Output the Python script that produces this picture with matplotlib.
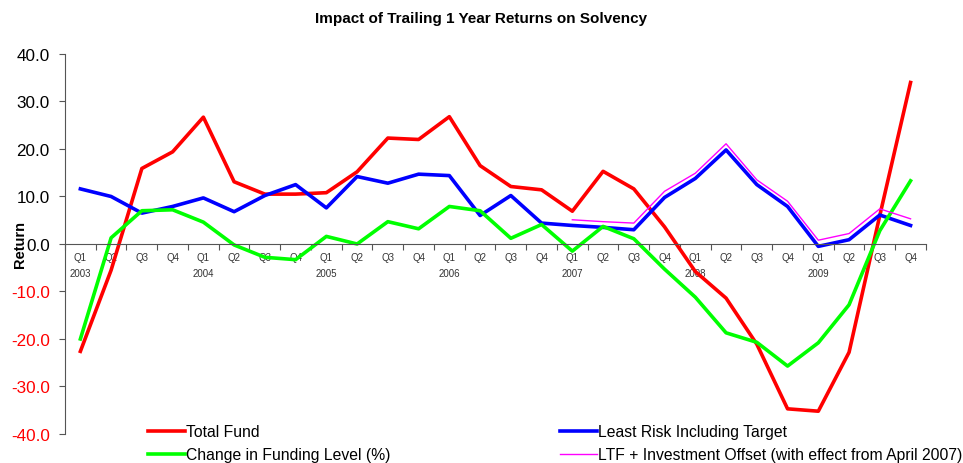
import numpy as np
import matplotlib.pyplot as plt

plt.rcParams['font.family'] = ['Liberation Sans', 'DejaVu Sans']

# quarters Q1 2003 .. Q4 2009
quarters = ["Q1", "Q2", "Q3", "Q4"] * 7
years = ["2003", "2004", "2005", "2006", "2007", "2008", "2009"]

total_fund = [-22.6, -5.5, 15.9, 19.4, 26.7, 13.1, 10.5, 10.5,
              10.8, 15.2, 22.3, 22.0, 26.8, 16.5, 12.1, 11.4,
              6.9, 15.3, 11.6, 3.6, -5.8, -11.4, -21.1, -34.7,
              -35.2, -22.8, 6.0, 34.0]
least_risk = [11.6, 10.0, 6.5, 7.9, 9.7, 6.8, 10.2, 12.5,
              7.6, 14.2, 12.8, 14.7, 14.4, 6.0, 10.2, 4.4,
              3.9, 3.5, 3.0, 9.8, 13.8, 19.8, 12.5, 7.9,
              -0.5, 0.9, 6.1, 3.9]
funding_change = [-20.0, 1.3, 7.0, 7.2, 4.6, -0.2, -2.8, -3.3,
                  1.6, 0.0, 4.7, 3.2, 7.9, 7.0, 1.2, 4.1,
                  -1.5, 3.7, 1.1, -5.3, -11.2, -18.7, -20.7, -25.7,
                  -20.8, -12.8, 2.8, 13.3]
# LTF + Investment Offset starts at Q1 2007
ltf_offset = [np.nan] * 16 + [5.1, 4.7, 4.4, 11.1, 14.9, 21.1, 13.5, 9.0,
                              0.8, 2.2, 7.4, 5.3]

fig = plt.figure(figsize=(9.63, 4.64), dpi=100)
ax = fig.add_axes([0.0675, 0.0625, 0.894, 0.819])

x = np.arange(len(quarters))
ax.plot(x, total_fund, color='#ff0000', lw=2.6, label='Total Fund')
ax.plot(x, least_risk, color='#0000ff', lw=2.6, label='Least Risk Including Target')
ax.plot(x, funding_change, color='#00ff00', lw=2.6, label='Change in Funding Level (%)')
ax.plot(x, ltf_offset, color='#ff00ff', lw=1.0,
        label='LTF + Investment Offset (with effect from April 2007)')

ax.set_xlim(-0.5, len(quarters) - 0.5)
ax.set_ylim(-40, 40)
yt = np.arange(-40, 41, 10)
ax.set_yticks(yt)
ax.set_yticklabels([f"{v:.1f}" for v in yt], fontsize=12.3)
for lab, v in zip(ax.get_yticklabels(), yt):
    if v < 0:
        lab.set_color('#ff0000')
ax.tick_params(axis='y', direction='out', length=4, width=0.8, color='#555555', pad=7)

ax.spines['top'].set_visible(False)
ax.spines['right'].set_visible(False)
ax.spines['bottom'].set_position(('data', 0))
ax.spines['bottom'].set_color('#555555')
ax.spines['left'].set_color('#555555')

labels = []
for i, q in enumerate(quarters):
    labels.append(q + "\n" + years[i // 4] if q == "Q1" else q + "\n")
ax.set_xticks(x)
ax.set_xticklabels(labels, fontsize=7, color='#333333', linespacing=1.75)
ax.tick_params(axis='x', which='major', length=0, pad=6)
ax.set_xticks(np.arange(-0.5, len(quarters), 1), minor=True)
ax.tick_params(axis='x', which='minor', direction='out', length=4, width=0.8, color='#555555')

ax.set_ylabel("Return", fontsize=10.5, fontweight='bold')
ax.yaxis.set_label_coords(-0.044, 0.5)
fig.suptitle("Impact of Trailing 1 Year Returns on Solvency", fontsize=11,
             fontweight='bold', y=0.975)

h, l = ax.get_legend_handles_labels()
leg_kw = dict(loc='upper left', frameon=False, fontsize=11.3, handlelength=2.35,
              handletextpad=0.1, labelspacing=0.5, borderpad=0, borderaxespad=0)
fig.legend([h[0], h[2]], [l[0], l[2]], bbox_to_anchor=(0.1537, 0.083), **leg_kw)
fig.legend([h[1], h[3]], [l[1], l[3]], bbox_to_anchor=(0.5815, 0.083), **leg_kw)

fig.savefig("out.png", dpi=100)
